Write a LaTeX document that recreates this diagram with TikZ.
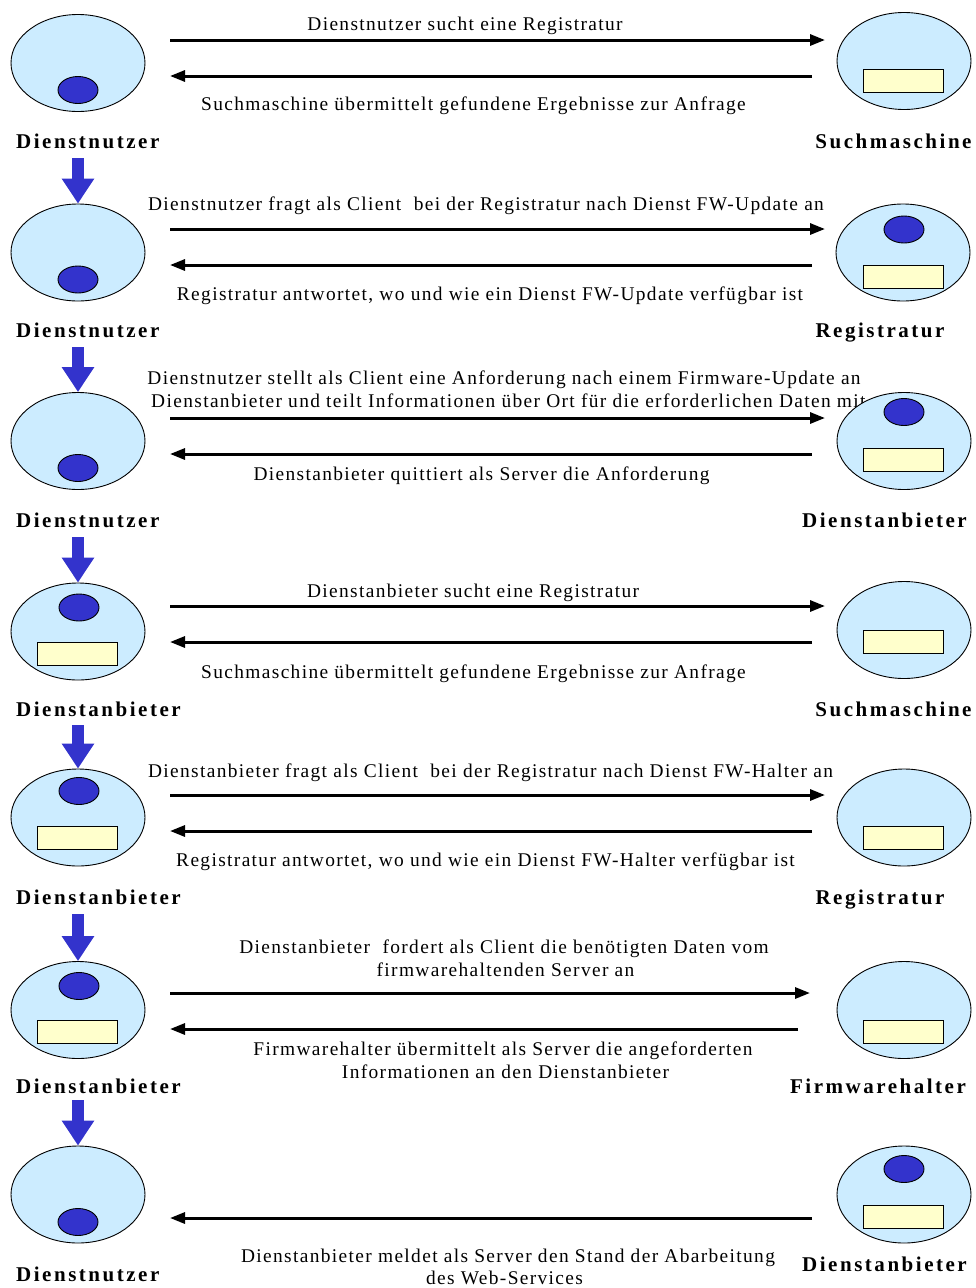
\documentclass[tikz,border=0pt]{standalone}
\usepackage{fontspec}
\setmainfont{Liberation Serif}
\newfontfamily\labfont[LetterSpace=7]{Liberation Serif}
\newfontfamily\namefont[LetterSpace=12]{Liberation Serif}
\usetikzlibrary{shapes.geometric,arrows.meta}
\definecolor{cellblue}{RGB}{204,236,255}
\definecolor{coreblue}{RGB}{51,51,204}
\definecolor{dbyellow}{RGB}{255,255,204}
\begin{document}
\begin{tikzpicture}[x=1pt,y=-1pt,
 host/.style={ellipse, draw=black, line width=0.9pt, fill=cellblue, minimum width=134pt, minimum height=97pt, inner sep=0pt},
 core/.style={ellipse, draw=black, line width=0.9pt, fill=coreblue, minimum width=40pt, minimum height=27pt, inner sep=0pt},
 store/.style={rectangle, draw=black, line width=0.9pt, fill=dbyellow, minimum width=80pt, minimum height=23pt, inner sep=0pt},
 msg/.style={font=\labfont\fontsize{19.4}{23}\selectfont, anchor=base, inner sep=0pt},
 msgw/.style={msg, anchor=base west},
 role/.style={font=\namefont\bfseries\fontsize{21}{24}\selectfont, anchor=base, inner sep=0pt},
 rolew/.style={role, anchor=base west},
 flow/.style={line width=3pt, -{Triangle[length=15pt,width=11pt]}},
 down/.style={draw=coreblue, line width=12pt, -{Triangle[length=25pt,width=31pt,fill=coreblue]}}
]
\useasboundingbox (0,0) rectangle (976,1288);

% ---------- messages ----------
\node[msg] (m1a) at (465,30.5) {Dienstnutzer sucht eine Registratur};
\node[msg] (m1b) at (473.5,110) {Suchmaschine übermittelt gefundene Ergebnisse zur Anfrage};
\node[msg] (m2a) at (486,210) {Dienstnutzer fragt als Client\ \ bei der Registratur nach Dienst FW-Update an};
\node[msg] (m2b) at (490,300) {Registratur antwortet, wo und wie ein Dienst FW-Update verfügbar ist};
\node[msg] (m3a) at (504,384) {Dienstnutzer stellt als Client eine Anforderung nach einem Firmware-Update an};
\node[msgw] (m3a2) at (151,407) {Dienstanbieter und teilt Informationen über Ort für die erforderlichen Daten mit};
\node[msg] (m3b) at (481.5,480) {Dienstanbieter quittiert als Server die Anforderung};
\node[msg] (m4a) at (473,597) {Dienstanbieter sucht eine Registratur};
\node[msg] (m4b) at (473.5,678) {Suchmaschine übermittelt gefundene Ergebnisse zur Anfrage};
\node[msg] (m5a) at (490.5,777) {Dienstanbieter fragt als Client\ \ bei der Registratur nach Dienst FW-Halter an};
\node[msg] (m5b) at (485.5,866) {Registratur antwortet, wo und wie ein Dienst FW-Halter verfügbar ist};
\node[msg] (m6a) at (504,953) {Dienstanbieter\ \ fordert als Client die benötigten Daten vom};
\node[msg] (m6a2) at (505.5,976) {firmwarehaltenden Server an};
\node[msg] (m6b) at (503,1055) {Firmwarehalter übermittelt als Server die angeforderten};
\node[msg] (m6b2) at (505.5,1078) {Informationen an den Dienstanbieter};
\node[msg] (m7b) at (508,1262) {Dienstanbieter meldet als Server den Stand der Abarbeitung};
\node[msg] (m7b2) at (504.5,1284) {des Web-Services};

% ---------- hosts ----------
\node[host] (L1) at (78,63) {};
\node[host] (R1) at (904,61) {};
\node[host] (L2) at (78,252.5) {};
\node[host] (R2) at (903,252.5) {};
\node[host] (L3) at (78,441) {};
\node[host] (R3) at (904,441) {};
\node[host] (L4) at (78,631.5) {};
\node[host] (R4) at (904,630) {};
\node[host] (L5) at (78,817.5) {};
\node[host] (R5) at (904,817.5) {};
\node[host] (L6) at (78,1010) {};
\node[host] (R6) at (904,1010) {};
\node[host] (L7) at (78,1194.5) {};
\node[host] (R7) at (904,1194.5) {};

% ---------- contents ----------
\node[core] (L1c) at (78,90) {};
\node[store] (R1s) at (903.5,81) {};
\node[core] (L2c) at (78,279.5) {};
\node[core] (R2c) at (904,229.5) {};
\node[store] (R2s) at (903.5,276.5) {};
\node[core] (L3c) at (78,468) {};
\node[core] (R3c) at (904,412) {};
\node[store] (R3s) at (903.5,460) {};
\node[core] (L4c) at (79,607.5) {};
\node[store] (L4s) at (77.5,654) {};
\node[store] (R4s) at (903.5,642) {};
\node[core] (L5c) at (79,791) {};
\node[store] (L5s) at (77.5,838) {};
\node[store] (R5s) at (903.5,838) {};
\node[core] (L6c) at (79,986) {};
\node[store] (L6s) at (77.5,1032) {};
\node[store] (R6s) at (903.5,1032) {};
\node[core] (L7c) at (78,1222) {};
\node[core] (R7c) at (904,1169) {};
\node[store] (R7s) at (903.5,1216.5) {};

% ---------- message arrows ----------
\foreach \n/\ya/\yb in {1/40/76, 2/229/265, 3/418/454, 4/606/642, 5/795/831}{
  \coordinate (a\n s) at (170,\ya);
  \coordinate (a\n e) at (825,\ya);
  \coordinate (b\n s) at (812,\yb);
  \coordinate (b\n e) at (170,\yb);
  \draw[flow] (a\n s) -- (a\n e);
  \draw[flow] (b\n s) -- (b\n e);
}
\coordinate (a6s) at (170,993);
\coordinate (a6e) at (810,993);
\coordinate (b6s) at (798,1029);
\coordinate (b6e) at (170,1029);
\draw[flow] (a6s) -- (a6e);
\draw[flow] (b6s) -- (b6e);
\coordinate (b7s) at (812,1218);
\coordinate (b7e) at (170,1218);
\draw[flow] (b7s) -- (b7e);

% ---------- roles ----------
\node[rolew] (n1l) at (16,148.5) {Dienstnutzer};
\node[role] (n1r) at (893.5,148.5) {Suchmaschine};
\node[rolew] (n2l) at (16,337.5) {Dienstnutzer};
\node[role] (n2r) at (880,337.5) {Registratur};
\node[rolew] (n3l) at (16,527.5) {Dienstnutzer};
\node[role] (n3r) at (884.5,527.5) {Dienstanbieter};
\node[rolew] (n4l) at (16,716.5) {Dienstanbieter};
\node[role] (n4r) at (893.5,716.5) {Suchmaschine};
\node[rolew] (n5l) at (16,904.5) {Dienstanbieter};
\node[role] (n5r) at (880,904.5) {Registratur};
\node[rolew] (n6l) at (16,1093.5) {Dienstanbieter};
\node[role] (n6r) at (878,1093.5) {Firmwarehalter};
\node[rolew] (n7l) at (16,1281.5) {Dienstnutzer};
\node[role] (n7r) at (884.5,1271.5) {Dienstanbieter};

% ---------- step arrows ----------
\coordinate (d1) at (78,158);
\coordinate (d2) at (78,347);
\coordinate (d3) at (78,537);
\coordinate (d4) at (78,725);
\coordinate (d5) at (78,914);
\coordinate (d6) at (78,1100);
\draw[down] (d1) -- (L2.north);
\draw[down] (d2) -- (L3.north);
\draw[down] (d3) -- (L4.north);
\draw[down] (d4) -- (L5.north);
\draw[down] (d5) -- (L6.north);
\draw[down] (d6) -- (L7.north);
\end{tikzpicture}
\end{document}
